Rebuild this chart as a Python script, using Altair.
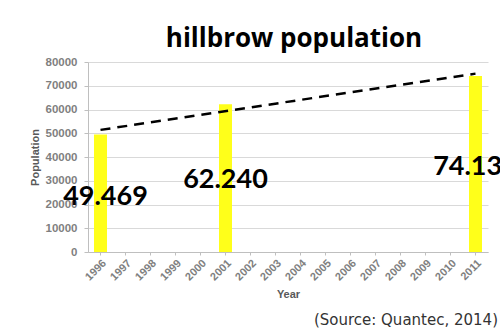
import altair as alt
import pandas as pd

# Census counts for Hillbrow
years = list(range(1996, 2012))
census_years = [1996, 2001, 2011]
population = [49469, 62240, 74130]
y_ticks = [0, 10000, 20000, 30000, 40000, 50000, 60000, 70000, 80000]
source_note = "(Source: Quantec, 2014)"

df = pd.DataFrame({"year": census_years, "population": population})

FONT_HEAD = "Open Sans"
FONT_NUM = "Lato"
FONT_NOTE = "DejaVu Sans"
FONT_AXIS = "Liberation Sans"
AXIS_GREY = "#7f7f7f"

x_enc = alt.X(
    "year:O",
    scale=alt.Scale(domain=years, paddingInner=0, paddingOuter=0),
    axis=alt.Axis(
        title="Year",
        labelAngle=-45,
        labelFont=FONT_AXIS,
        labelFontSize=11,
        labelFontWeight="bold",
        labelColor=AXIS_GREY,
        titleFont=FONT_AXIS,
        titleFontSize=11,
        titleFontWeight="bold",
        titleColor="#595959",
        titlePadding=6,
        domainColor="#bfbfbf",
        tickColor="#bfbfbf",
        tickSize=3,
        labelPadding=2,
    ),
)
y_enc = alt.Y(
    "population:Q",
    scale=alt.Scale(domain=[0, 80000], nice=False),
    axis=alt.Axis(
        title="Population",
        values=y_ticks,
        format="d",
        labelFont=FONT_AXIS,
        labelFontSize=11.5,
        labelFontWeight="bold",
        labelColor=AXIS_GREY,
        titleFont=FONT_AXIS,
        titleFontSize=11,
        titleFontWeight="bold",
        titleColor="#595959",
        titlePadding=5,
        gridColor="#d9d9d9",
        domainColor="#bfbfbf",
        tickColor="#bfbfbf",
        tickSize=4,
        labelPadding=7,
    ),
)

base = alt.Chart(df)

bars = base.mark_bar(color="#ffff1a", size=13).encode(x=x_enc, y=y_enc)

trend = (
    base.transform_regression("year", "population")
    .mark_line(color="black", strokeWidth=2.5, strokeDash=[10, 7])
    .encode(x=x_enc, y=y_enc)
)

# value labels, European thousands separator, dropped below each bar top
label_offsets = {1996: (5, 70), 2001: (0, 84), 2011: (0, 99)}
labels = []
for yr in census_years:
    dx, dy = label_offsets[yr]
    labels.append(
        base.transform_filter(alt.datum.year == yr)
        .transform_calculate(label="replace(format(datum.population, ','), ',', '.')")
        .mark_text(
            font=FONT_NUM,
            fontSize=27,
            fontWeight="bold",
            color="black",
            align="center",
            baseline="alphabetic",
            dx=dx,
            dy=dy,
        )
        .encode(x=x_enc, y=y_enc, text="label:N")
    )

source = (
    alt.Chart(pd.DataFrame({"note": [source_note]}))
    .mark_text(font=FONT_NOTE, fontSize=15, color="#333333", align="right", baseline="alphabetic")
    .encode(x=alt.value(410), y=alt.value(263), text="note:N")
)

chart = (
    alt.layer(bars, trend, *labels, source)
    .properties(
        width=400,
        height=190,
        autosize=alt.AutoSizeParams(type="none"),
        padding={"left": 88, "top": 62, "right": 12, "bottom": 79},
        title=alt.TitleParams(
            "hillbrow population",
            font=FONT_HEAD,
            fontSize=26,
            fontWeight="bold",
            color="black",
            anchor="middle",
            dx=6,
            offset=4,
        ),
        background="white",
    )
    .configure_view(stroke=None)
)

chart.save("out.html", embed_options={"renderer": "svg", "actions": False})
